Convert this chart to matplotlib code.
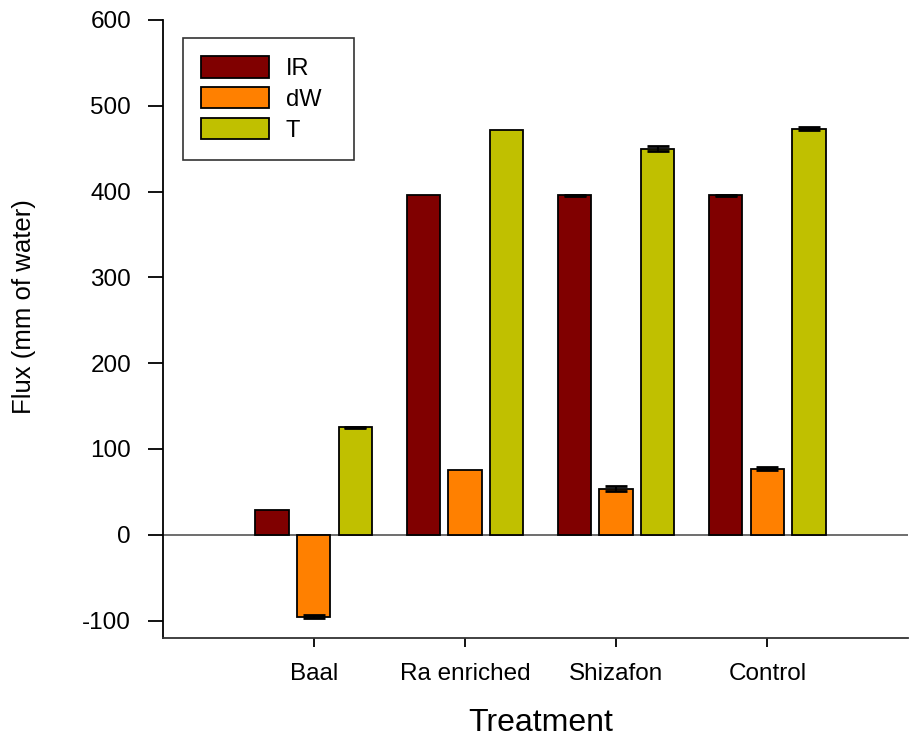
import numpy as np
import matplotlib
matplotlib.use("Agg")
import matplotlib.pyplot as plt
from matplotlib.patches import Patch

plt.rcParams['font.family'] = ['Liberation Sans', 'DejaVu Sans']

categories = ["Baal", "Ra enriched", "Shizafon", "Control"]
series = ["IR", "dW", "T"]
ir = [28.5, 396.5, 396.0, 396.0]
dw = [-95.5, 75.0, 53.5, 77.0]
t = [125.5, 471.5, 450.0, 473.0]
ir_err = [np.nan, np.nan, 0.6, 0.6]
dw_err = [2.0, np.nan, 3.0, 1.5]
t_err = [0.6, np.nan, 3.0, 1.8]
colors = ["#800000", "#FF8000", "#C0C000"]
yticks = [-100, 0, 100, 200, 300, 400, 500, 600]

fig = plt.figure(figsize=(9.09, 7.38), dpi=100)
ax = fig.add_axes([163/909, 1-637.7/738, (908-163)/909, (637.7-20)/738])

x = np.arange(len(categories))
width = 0.22
step = 0.275
for i, (vals, errs) in enumerate(zip([ir, dw, t], [ir_err, dw_err, t_err])):
    pos = x + (i-1)*step
    ax.bar(pos, vals, width, color=colors[i], edgecolor="black", linewidth=1.3, zorder=3)
    ax.errorbar(pos, vals, yerr=errs, fmt="none", ecolor="black", elinewidth=1.5,
                capsize=8, capthick=2, zorder=4)

ax.axhline(0, color="#555555", linewidth=1.2, zorder=2)
ax.set_xlim(-0.996, 3.93)
ax.set_ylim(-120, 600)
ax.set_yticks(yticks)
ax.set_yticklabels([str(v) for v in yticks])
ax.set_xticks(x)
ax.set_xticklabels(categories)
for s in ["top", "right"]:
    ax.spines[s].set_visible(False)
ax.spines["left"].set_linewidth(1.3)
ax.spines["bottom"].set_linewidth(1.3)
ax.spines["bottom"].set_color("#333333")
ax.tick_params(axis="y", direction="out", length=11, width=1.3, labelsize=17.5, pad=12)
ax.tick_params(axis="x", direction="out", length=6.5, width=1.3, labelsize=17.5, pad=12)

ax.set_xlabel("Treatment", fontsize=23, va="baseline")
ax.xaxis.set_label_coords(0.507, -0.151)
ax.set_ylabel("Flux (mm of water)", fontsize=18.5, va="baseline")
ax.yaxis.set_label_coords(-0.177, 0.536)

handles = [Patch(facecolor=c, edgecolor="black", linewidth=1.3) for c in colors]
leg = ax.legend(handles, series, loc="upper left",
                bbox_to_anchor=(0.0264, 0.7734, 0.2295, 0.1975), mode="expand",
                fontsize=17, frameon=True, fancybox=False, edgecolor="black",
                handlelength=2.88, handleheight=1.0, labelspacing=0.3,
                handletextpad=0.7, borderpad=0.78, borderaxespad=0)
leg.get_frame().set_linewidth(1.2)
leg.set_zorder(5)

fig.savefig("out.png", dpi=100)
